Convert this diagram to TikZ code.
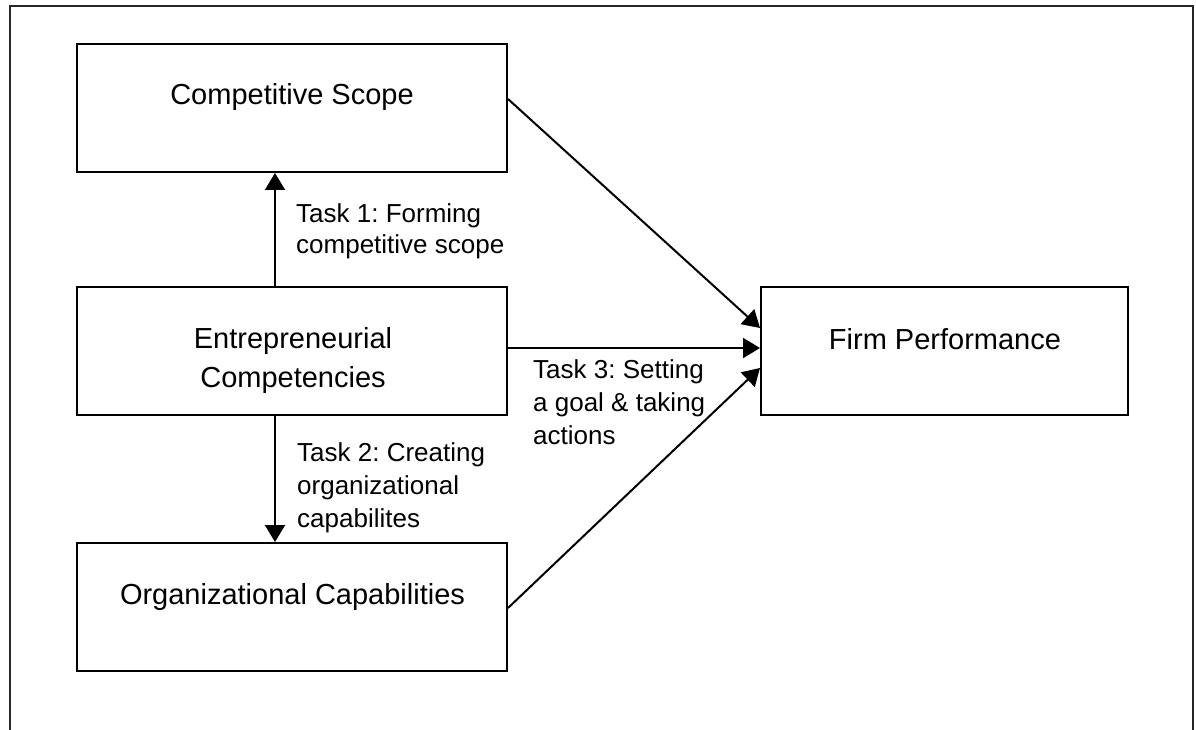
\documentclass[tikz,border=0pt]{standalone}
\usepackage{fontspec}
\setmainfont{Liberation Sans}
\usetikzlibrary{arrows.meta}
\frenchspacing
\begin{document}
\begin{tikzpicture}[x=1pt,y=-1pt,
  box/.style={draw, line width=2pt, minimum width=430pt, minimum height=128pt, inner sep=0pt},
  boxtext/.style={font=\fontsize{29}{39}\selectfont, align=center, inner sep=0pt},
  tasktext/.style={font=\fontsize{26}{33}\selectfont, align=left, inner sep=0pt, anchor=north west},
  link/.style={line width=2pt, -{Triangle[length=17pt,width=20pt]}}
]
\useasboundingbox (0,0) rectangle (1196,730);

% frame, open at the bottom
\draw[line width=2.5pt, black!85] (10,730) -- (10,6) -- (1193,6) -- (1193,730);

% boxes
\node[box] (cs) at (292,108) {};
\node[box] (ec) at (292,350.5) {};
\node[box] (oc) at (292,607) {};
\node[box, minimum width=367pt] (fp) at (944.5,350.5) {};

% box captions
\node[boxtext, anchor=base] (cs-text) at (292,105) {Competitive Scope};
\node[boxtext, anchor=north] (ec-text) at (293,327) {Entrepreneurial\\Competencies};
\node[boxtext, anchor=base] (oc-text) at (292.5,604) {Organizational Capabilities};
\node[boxtext, anchor=base] (fp-text) at (945,349) {Firm Performance};

% task labels
\node[tasktext, font=\fontsize{26}{31}\selectfont] (t1) at (296,203) {Task 1: Forming\\competitive scope};
\node[tasktext] (t2) at (297,442) {Task 2: Creating\\organizational\\capabilites};
\node[tasktext] (t3) at (533,359) {Task 3: Setting\\a goal \& taking\\actions};

% connectors
\draw[link] ([xshift=-17pt]ec.north) -- ([xshift=-17pt]cs.south);
\draw[link] ([xshift=-17pt]ec.south) -- ([xshift=-17pt]oc.north);
\draw[link] ([yshift=9pt]cs.east) -- ([yshift=22.5pt]fp.west);
\draw[link] ([yshift=2.5pt]ec.east) -- ([yshift=2.5pt]fp.west);
\draw[link] ([yshift=-1pt]oc.east) -- ([yshift=-17.5pt]fp.west);
\end{tikzpicture}
\end{document}
